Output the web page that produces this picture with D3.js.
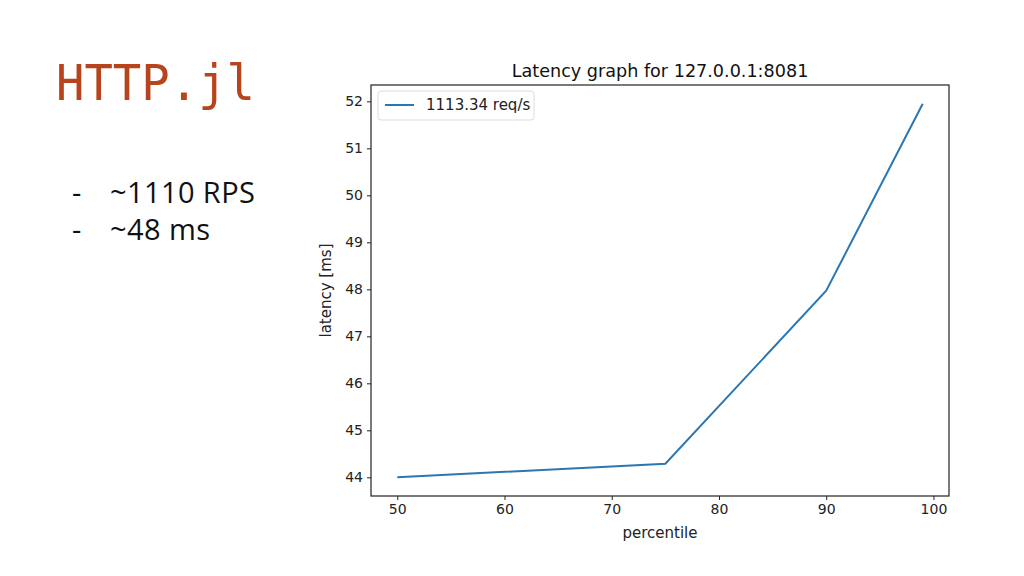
<!DOCTYPE html>
<html><head><meta charset="utf-8">
<script src="https://cdn.jsdelivr.net/npm/d3@7"></script>
<style>body{margin:0;background:#fff;} svg{display:block;}</style>
</head><body>
<svg id="c" width="1024" height="576"></svg>
<script>
const percentiles = [50, 75, 90, 99];
const latencies = [44.0, 44.29, 47.97, 51.95];
const xTicks = [50, 60, 70, 80, 90, 100];
const yTicks = [44, 45, 46, 47, 48, 49, 50, 51, 52];
const seriesLabel = "1113.34 req/s";
const chartTitle = "Latency graph for 127.0.0.1:8081";
const bullets = ["~1110 RPS", "~48 ms"];

const svg = d3.select("#c");
svg.append("rect").attr("width",1024).attr("height",576).attr("fill","#fff");

// Slide text
svg.append("text").attr("x",56).attr("y",100)
  .attr("font-family","DejaVu Sans Mono").attr("font-size",50)
  .attr("fill","#b7441c").attr("textLength",199).attr("lengthAdjust","spacingAndGlyphs")
  .text("HTTP.jl");
bullets.forEach((b,i)=>{
  const y = 203 + i*37;
  svg.append("text").attr("x",72).attr("y",y).attr("font-family","Open Sans").attr("font-size",29).attr("fill","#111").text("-");
  svg.append("text").attr("x",110).attr("y",y).attr("font-family","Open Sans").attr("font-size",29).attr("fill","#111")
    .attr("letter-spacing",0.4).text(b);
});

// Chart
const L=371, R=949, T=85, B=496;
const x = d3.scaleLinear().domain([47.55, 101.45]).range([L, R]);
const y = d3.scaleLinear().domain([43.6025, 52.3475]).range([B, T]);
const font = "DejaVu Sans";

const gx = svg.append("g").attr("transform",`translate(0,${B})`)
  .call(d3.axisBottom(x).tickValues(xTicks).tickSize(4).tickPadding(4).tickFormat(d3.format("d")));
const gy = svg.append("g").attr("transform",`translate(${L},0)`)
  .call(d3.axisLeft(y).tickValues(yTicks).tickSize(4).tickPadding(4).tickFormat(d3.format("d")));
[gx,gy].forEach(g=>{
  g.select(".domain").remove();
  g.selectAll("text").attr("font-family",font).attr("font-size",14).attr("fill","#222");
  g.selectAll("line").attr("stroke","#222");
});

svg.append("path").datum(percentiles.map((p,i)=>[p,latencies[i]]))
  .attr("d", d3.line().x(d=>x(d[0])).y(d=>y(d[1])))
  .attr("fill","none").attr("stroke","#2a77b4").attr("stroke-width",2);

svg.append("rect").attr("x",L).attr("y",T).attr("width",R-L).attr("height",B-T)
  .attr("fill","none").attr("stroke","#222").attr("stroke-width",1.2);

svg.append("text").attr("x",(L+R)/2).attr("y",77).attr("text-anchor","middle")
  .attr("font-family",font).attr("font-size",17.6).attr("fill","#111").text(chartTitle);
svg.append("text").attr("x",(L+R)/2).attr("y",538).attr("text-anchor","middle")
  .attr("font-family",font).attr("font-size",15).attr("fill","#222").text("percentile");
svg.append("text").attr("transform",`translate(331,${(T+B)/2}) rotate(-90)`).attr("text-anchor","middle")
  .attr("font-family",font).attr("font-size",15).attr("fill","#222").text("latency [ms]");

// Legend
const lg = svg.append("g");
lg.append("rect").attr("x",378).attr("y",91).attr("width",156).attr("height",29).attr("rx",3)
  .attr("fill","#fff").attr("stroke","#ddd");
lg.append("line").attr("x1",385).attr("x2",414).attr("y1",105).attr("y2",105)
  .attr("stroke","#2a77b4").attr("stroke-width",2);
lg.append("text").attr("x",426).attr("y",110).attr("font-family",font).attr("font-size",15)
  .attr("fill","#222").text(seriesLabel);
</script>
</body></html>
